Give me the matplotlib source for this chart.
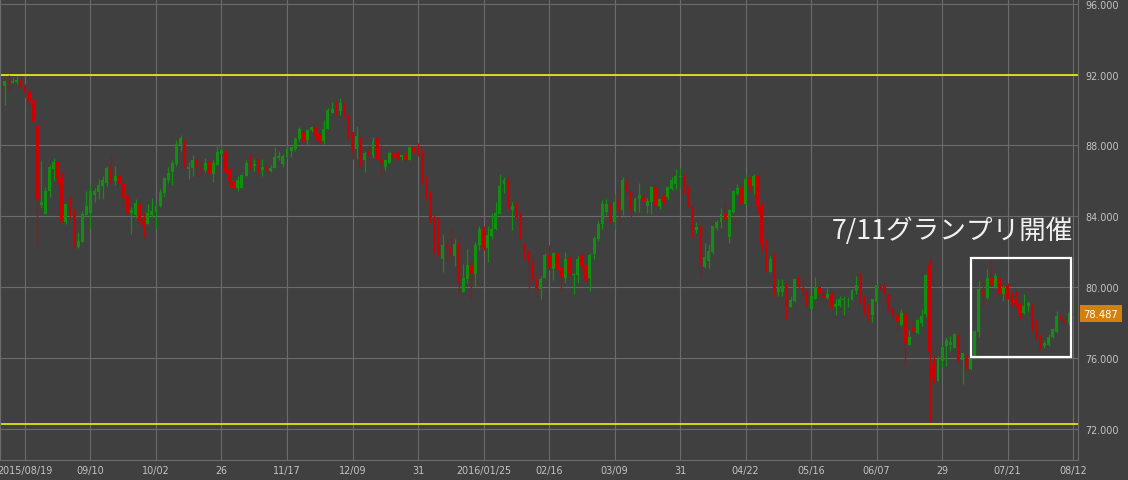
import numpy as np
import matplotlib
matplotlib.use("Agg")
import matplotlib.pyplot as plt
from matplotlib.patches import Rectangle

# daily candles, 2015/08/12 .. 2016/08/12 (weekdays)
opens = [
    91.35, 91.65, 91.5, 91.6, 91.7, 91.35, 91.0, 90.55, 89.1, 84.65,
    84.1, 85.4, 86.65, 87.05, 86.15, 83.65, 84.7, 84.2, 82.25, 82.55,
    84.05, 84.2, 85.2, 85.35, 85.7, 85.9, 86.7, 86.0, 86.25, 85.9,
    85.15, 84.2, 84.05, 84.7, 83.75, 83.55, 84.05, 84.25, 84.6, 85.3,
    86.05, 86.5, 86.95, 88.0, 88.3, 86.65, 86.75, 87.15, 86.7, 86.6,
    87.05, 86.4, 86.9, 87.5, 87.65, 86.65, 86.0, 85.6, 85.6, 86.25,
    87.15, 86.85, 86.95, 86.6, 86.8, 86.55, 86.7, 87.3, 86.95, 87.35,
    87.7, 87.8, 88.35, 88.75, 88.3, 88.85, 89.05, 88.65, 88.25, 88.9,
    89.85, 90.1, 89.95, 90.4, 89.7, 88.75, 87.8, 88.5, 87.2, 87.7,
    87.45, 88.4, 87.25, 86.8, 87.0, 87.55, 87.55, 87.35, 87.4, 87.2,
    87.9, 87.8, 87.55, 85.8, 85.25, 83.75, 82.5, 81.6, 82.4, 82.2,
    81.75, 82.5, 79.7, 80.45, 81.25, 80.75, 82.35, 83.3, 82.2, 82.9,
    83.3, 84.1, 85.8, 86.1, 84.35, 84.45, 84.05, 82.5, 82.05, 81.35,
    80.45, 79.9, 80.5, 81.8, 81.0, 81.9, 81.05, 80.5, 81.65, 80.7,
    80.7, 81.75, 81.2, 80.5, 81.85, 82.7, 83.55, 84.25, 84.75, 83.7,
    84.9, 84.35, 85.95, 85.45, 84.3, 85.0, 85.1, 84.6, 84.8, 85.6,
    84.55, 85.15, 85.1, 85.55, 85.8, 86.2, 86.2, 85.7, 84.6, 83.2,
    83.45, 81.15, 81.45, 82.0, 83.35, 83.65, 84.1, 82.85, 84.25, 85.25,
    85.6, 84.7, 86.15, 85.7, 86.3, 84.6, 82.45, 80.85, 81.6, 79.7,
    79.7, 80.05, 78.9, 79.2, 80.55, 79.95, 79.8, 78.75, 79.35, 80.0,
    79.55, 79.4, 79.6, 78.9, 78.95, 79.25, 79.3, 79.25, 79.75, 80.75,
    79.5, 78.75, 78.4, 79.15, 80.05, 80.1, 79.6, 78.75, 78.4, 77.85,
    78.55, 76.75, 77.7, 77.4, 77.95, 78.5, 81.25, 75.65, 74.7, 75.8,
    76.65, 76.75, 76.55, 77.3, 75.9, 76.15, 75.35, 76.0, 77.45, 79.85,
    79.4, 80.5, 80.0, 80.5, 79.6, 80.1, 79.35, 79.3, 79.1, 78.55,
    78.95, 79.0, 77.65, 77.15, 76.65, 76.75, 77.15, 77.45, 78.35, 78.2,
    77.95, 78.45,
]
highs = [
    91.7, 92.0, 91.85, 91.9, 91.85, 91.45, 91.25, 90.6, 89.15, 87.1,
    85.65, 86.9, 87.3, 87.05, 86.5, 84.7, 85.15, 84.4, 83.1, 84.3,
    85.45, 85.8, 85.6, 86.1, 86.3, 86.85, 87.45, 86.85, 86.4, 86.0,
    85.15, 84.5, 85.0, 84.75, 84.2, 84.7, 85.05, 84.7, 85.55, 86.2,
    86.8, 87.15, 88.3, 88.6, 88.35, 87.05, 87.45, 87.3, 87.15, 87.3,
    87.25, 87.15, 88.1, 88.05, 87.75, 86.7, 86.0, 86.3, 86.4, 87.15,
    87.5, 87.25, 87.3, 87.25, 87.0, 86.9, 87.9, 87.7, 87.5, 88.0,
    87.9, 88.5, 89.05, 88.8, 88.9, 89.1, 89.1, 88.65, 89.45, 90.1,
    90.45, 90.5, 90.7, 90.45, 89.7, 88.75, 89.1, 88.5, 87.7, 88.0,
    88.45, 88.4, 88.0, 87.2, 87.7, 87.7, 87.7, 87.45, 87.6, 87.9,
    87.95, 88.15, 87.8, 86.3, 85.4, 84.05, 83.9, 83.0, 82.7, 83.35,
    82.7, 82.8, 81.3, 82.15, 81.5, 82.55, 83.45, 83.45, 83.45, 84.2,
    84.8, 86.4, 86.2, 86.15, 84.8, 84.8, 84.2, 82.5, 82.05, 81.85,
    80.85, 80.65, 81.95, 82.4, 82.0, 81.95, 81.05, 82.0, 81.75, 80.8,
    81.75, 81.95, 81.3, 81.9, 82.9, 83.75, 84.9, 85.0, 84.75, 85.25,
    85.55, 86.2, 86.3, 85.45, 85.1, 85.9, 85.2, 85.05, 85.7, 85.8,
    85.05, 85.25, 85.7, 86.2, 86.65, 86.7, 86.4, 85.7, 84.6, 83.65,
    83.7, 82.5, 82.45, 83.45, 83.8, 84.45, 84.75, 84.4, 85.5, 85.8,
    85.95, 86.4, 86.2, 86.4, 86.35, 84.8, 82.7, 81.75, 81.95, 80.45,
    80.45, 80.25, 79.5, 80.5, 80.65, 80.35, 79.8, 79.5, 80.55, 80.05,
    79.75, 80.0, 79.7, 79.3, 79.5, 79.5, 79.45, 79.9, 80.65, 80.8,
    79.5, 79.05, 79.35, 80.15, 80.1, 80.25, 79.6, 78.8, 78.55, 78.75,
    78.6, 77.55, 78.15, 78.2, 78.75, 80.75, 81.6, 76.1, 76.1, 76.7,
    77.15, 77.25, 77.4, 77.35, 76.25, 76.15, 75.95, 77.55, 80.35, 80.35,
    81.0, 81.5, 80.8, 80.55, 80.1, 80.25, 79.7, 79.75, 79.15, 79.6,
    79.2, 79.05, 78.15, 77.35, 76.95, 77.35, 77.7, 78.65, 78.45, 78.4,
    78.65, 78.52,
]
lows = [
    90.3, 91.1, 91.5, 91.45, 91.2, 90.75, 90.2, 89.3, 82.3, 84.5,
    84.1, 85.1, 86.0, 85.8, 83.65, 83.55, 83.95, 82.25, 82.2, 82.55,
    84.05, 83.3, 84.8, 85.0, 85.0, 85.7, 85.9, 85.75, 85.7, 84.6,
    84.05, 83.0, 83.9, 83.65, 82.8, 83.55, 83.95, 83.3, 84.5, 85.1,
    85.9, 85.75, 86.85, 87.7, 86.65, 86.1, 86.25, 86.2, 86.25, 86.5,
    86.4, 85.95, 86.9, 87.5, 86.45, 85.65, 85.55, 85.4, 85.6, 86.25,
    86.65, 86.55, 86.45, 86.3, 86.45, 86.5, 86.7, 87.2, 86.8, 87.25,
    87.35, 87.7, 88.25, 88.2, 87.95, 88.75, 88.35, 88.15, 88.1, 88.9,
    89.85, 89.7, 89.7, 89.6, 88.35, 87.25, 87.25, 86.75, 86.5, 87.15,
    87.3, 87.2, 86.2, 86.6, 87.0, 87.2, 87.2, 87.2, 87.2, 87.2,
    87.55, 87.4, 85.8, 84.9, 83.65, 81.95, 81.75, 80.85, 81.4, 81.75,
    81.2, 79.6, 79.7, 80.25, 79.3, 80.05, 82.1, 82.1, 81.4, 82.7,
    83.2, 84.1, 85.3, 84.4, 83.2, 83.9, 82.7, 81.6, 79.9, 80.25,
    79.5, 79.3, 80.5, 80.95, 80.4, 80.9, 79.8, 80.25, 80.65, 79.6,
    80.25, 81.05, 80.35, 79.8, 81.6, 82.6, 83.3, 84.05, 83.6, 83.3,
    83.7, 84.05, 85.15, 83.9, 84.25, 84.25, 84.6, 84.2, 84.1, 84.5,
    84.4, 84.7, 84.95, 85.5, 85.55, 85.6, 85.25, 84.5, 82.8, 83.05,
    80.65, 81.1, 81.05, 81.85, 83.2, 83.35, 83.7, 82.5, 84.2, 85.2,
    84.65, 84.65, 85.5, 85.25, 84.2, 82.05, 80.85, 80.85, 79.5, 79.5,
    79.5, 78.2, 78.85, 79.15, 79.95, 79.5, 78.9, 78.75, 79.35, 79.3,
    79.05, 79.3, 78.8, 78.4, 78.85, 78.4, 78.85, 79.25, 79.6, 79.05,
    78.4, 78.1, 78.05, 79.15, 79.85, 79.05, 78.55, 78.1, 77.55, 77.8,
    75.6, 76.7, 77.35, 77.35, 77.8, 78.3, 72.35, 74.6, 74.7, 75.5,
    75.55, 76.4, 76.55, 75.75, 74.5, 75.2, 75.3, 75.95, 77.2, 78.95,
    79.35, 80.1, 79.95, 79.5, 79.2, 79.3, 78.95, 78.9, 78.2, 78.45,
    78.6, 77.5, 77.05, 76.5, 76.55, 76.65, 77.1, 77.4, 77.95, 77.85,
    77.85, 78.42,
]
closes = [
    91.65, 91.55, 91.65, 91.7, 91.25, 91.0, 90.5, 89.4, 84.9, 84.8,
    85.4, 86.8, 87.05, 86.15, 83.75, 84.7, 84.2, 82.35, 82.6, 84.1,
    84.6, 85.45, 85.45, 85.75, 86.05, 86.75, 85.9, 86.3, 85.9, 85.05,
    84.2, 84.35, 84.75, 83.75, 83.45, 84.2, 84.3, 84.6, 85.35, 86.15,
    86.45, 87.0, 88.1, 88.4, 86.75, 86.8, 87.15, 86.8, 86.6, 87.0,
    86.45, 87.0, 87.65, 87.75, 86.5, 85.95, 85.65, 86.05, 86.35, 87.0,
    87.05, 86.95, 86.8, 86.8, 86.6, 86.75, 87.35, 87.4, 87.4, 87.8,
    87.9, 88.35, 88.9, 88.25, 88.85, 89.05, 88.55, 88.25, 88.9, 90.0,
    90.05, 89.95, 90.4, 89.7, 88.65, 87.7, 88.55, 86.8, 87.55, 87.45,
    88.25, 87.25, 87.05, 87.15, 87.55, 87.3, 87.3, 87.45, 87.25, 87.9,
    87.6, 87.5, 85.85, 85.25, 83.75, 82.35, 81.95, 82.35, 82.2, 81.85,
    82.45, 80.25, 80.5, 81.25, 80.75, 82.4, 83.25, 82.2, 82.95, 83.3,
    84.2, 85.7, 86.05, 84.5, 84.55, 83.95, 82.7, 82.1, 81.4, 80.4,
    79.9, 80.45, 81.8, 81.05, 81.9, 81.0, 80.55, 81.6, 80.75, 80.75,
    81.6, 81.2, 80.4, 81.8, 82.75, 83.55, 84.7, 84.7, 83.7, 84.8,
    84.3, 86.05, 85.4, 84.35, 85.0, 85.2, 84.8, 84.85, 85.65, 84.55,
    84.95, 84.8, 85.65, 86.05, 86.25, 86.3, 85.7, 84.6, 83.2, 83.4,
    81.25, 81.7, 82.05, 83.45, 83.7, 84.1, 83.85, 84.35, 85.4, 85.6,
    84.7, 86.1, 85.7, 86.3, 84.6, 82.45, 80.85, 81.6, 79.7, 80.0,
    80.05, 78.9, 79.25, 80.45, 80.0, 79.8, 78.95, 79.5, 80.0, 79.6,
    79.45, 79.6, 78.9, 79.05, 79.3, 79.3, 79.35, 79.85, 80.1, 79.5,
    78.65, 78.55, 79.3, 80.1, 79.9, 79.6, 78.65, 78.4, 78.0, 78.55,
    76.8, 77.15, 77.45, 78.15, 78.35, 80.7, 76.35, 74.8, 75.95, 76.6,
    77.0, 76.9, 77.35, 75.85, 76.25, 75.35, 75.95, 77.5, 79.9, 79.5,
    80.5, 80.1, 80.65, 79.6, 80.0, 79.35, 79.15, 79.1, 78.5, 78.95,
    79.1, 77.55, 77.1, 76.6, 76.85, 77.2, 77.65, 78.35, 78.2, 78.0,
    78.55, 78.487,
]

tick_labels = ["2015/08/19", "09/10", "10/02", "26", "11/17", "12/09", "31",
               "2016/01/25", "02/16", "03/09", "31", "04/22", "05/16",
               "06/07", "29", "07/21", "08/12"]
price_ticks = [72, 76, 80, 84, 88, 92, 96]
support_lines = [92.0, 72.25]
last_price = 78.487
note = "7/11グランプリ開催"

bg = "#404040"
grid_c = "#6b6b6b"
up_c = "#109010"
down_c = "#cc0000"
txt_c = "#c4c4c4"

o = np.array(opens); h = np.array(highs); l = np.array(lows); c = np.array(closes)
x = np.arange(len(o))
up = c >= o
col = np.where(up, up_c, down_c)

fig = plt.figure(figsize=(11.28, 4.81), dpi=100, facecolor=bg)
ax = fig.add_axes([0, 20 / 481, 1078 / 1128, 461 / 481], facecolor=bg)

# grid
ax.set_xticks(np.arange(5, len(o), 16))
ax.set_xticklabels(tick_labels)
ax.set_yticks(price_ticks)
ax.set_yticklabels(["%.3f" % v for v in price_ticks])
ax.grid(True, color=grid_c, lw=0.8, zorder=0)
ax.set_axisbelow(True)

for y in support_lines:
    ax.axhline(y, color="#ffff00", lw=1.1, zorder=1)

# candles
ax.vlines(x, l, h, colors=col, lw=0.9, zorder=2)
body = np.maximum(np.abs(c - o), 0.04)
ax.bar(x, body, bottom=np.minimum(o, c), width=0.72, color=col,
       edgecolor="none", zorder=3)

ax.set_xlim(-1.1, 262.2)
ax.set_ylim(70.23, 96.27)

ax.yaxis.tick_right()
ax.tick_params(axis="y", length=0, pad=5, labelsize=6.9, labelcolor=txt_c)
ax.tick_params(axis="x", length=0, pad=3.5, labelsize=6.9, labelcolor=txt_c)
for s in ["left", "right", "bottom"]:
    ax.spines[s].set_color(grid_c)
    ax.spines[s].set_linewidth(0.8)
ax.spines["top"].set_visible(False)

# highlighted box and note
ax.add_patch(Rectangle((236.1, 76.05), 24.4, 5.6, fill=False,
                       edgecolor="white", lw=1.6, zorder=4))
ax.text(202.1, 83.22, note, color="#f0f0f0", fontsize=19.2,
        family=["Noto Sans CJK JP", "DejaVu Sans"], va="center", ha="left",
        zorder=5)

# last price tag
ax.text(1101 / 1078, last_price, "%.3f" % last_price,
        transform=ax.get_yaxis_transform(), ha="center", va="center",
        color="white", fontsize=7.2, clip_on=False,
        bbox=dict(boxstyle="square,pad=0.35", fc="#d4800c", ec="none"))

fig.savefig("out.png", dpi=100, facecolor=bg)
